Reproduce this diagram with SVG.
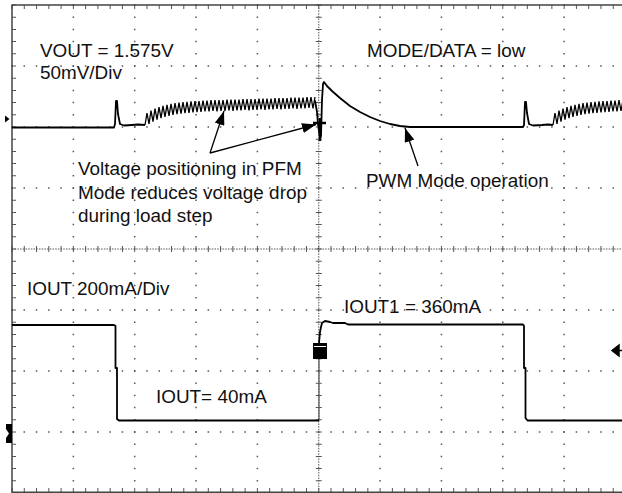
<svg xmlns="http://www.w3.org/2000/svg" xmlns:xlink="http://www.w3.org/1999/xlink" width="622" height="493" viewBox="0 0 622 493">
<style>
.dot{stroke:#555;stroke-width:1.5;fill:none}
.axis{stroke:#555;stroke-width:1;fill:none;stroke-dasharray:1.5 1.2}
.tick{stroke:#555;fill:none}
.frame{stroke:#444;stroke-width:1.5;fill:none}
.trace{stroke:#000;stroke-width:1.8;fill:none;stroke-linejoin:round}
.rip{stroke:#000;stroke-width:1.3;fill:none;stroke-linejoin:miter}
.lbl{font-family:"Liberation Sans",Arial,Helvetica,sans-serif;font-size:18.9px;fill:#111}
.arr{stroke:#000;stroke-width:1.3;fill:none}
</style>
<defs>
<marker id="ah" viewBox="0 0 14 10" refX="14" refY="5" markerWidth="14" markerHeight="10" markerUnits="userSpaceOnUse" orient="auto">
<path d="M0,0 L14,5 L0,10 Z" fill="#000"/>
</marker>
<path id="rip" d="M145,125 L147,113 L149,124 L151,110.6 L153,121.6 L155,108.7 L157,119.7 L159,107.1 L161,118.1 L163,105.8 L165,116.8 L167,104.8 L169,115.8 L171,103.9 L173,114.9 L175,103.2 L177,114.2 L179,102.6 L181,113.6 L183,102.1 L185,113.1 L187,101.8 L189,112.8 L191,101.4 L193,112.4 L195,101.2 L197,112.2 L199,101 L201,112 l2,-11.5 l2,11 l2,-11 l2,11 l2,-11.5 l2,11 l2,-11 l2,11.5 l2,-11.5 l2,11 l2,-11 l2,11 l2,-11.5 l2,11 l2,-11 l2,11.5 l2,-11.5 l2,11 l2,-11 l2,11 l2,-11.5 l2,11 l2,-11 l2,11.5 l2,-11.5 l2,11 l2,-11 l2,11 l2,-11.5 l2,11 l2,-11 l2,11.5 l2,-11.5 l2,11 l2,-11 l2,11 l2,-11.5 l2,11 l2,-11 l2,11.5 l2,-11.5 l2,11 l2,-11 l2,11 l2,-11.5 l2,11 l2,-11 l2,11.5 l2,-11.5 l2,11 l2,-11 l2,11 l2,-11.5 l2,11 l2,-11 l2,11.5 l2,-11.5"/>
</defs>
<rect width="622" height="493" fill="#fff"/>
<g id="grid">
<g class="dot" style="stroke-dasharray:1.5 10.7">
<line x1="73.35" y1="4.25" x2="73.35" y2="493"/>
<line x1="134.7" y1="4.25" x2="134.7" y2="493"/>
<line x1="196.05" y1="4.25" x2="196.05" y2="493"/>
<line x1="257.4" y1="4.25" x2="257.4" y2="493"/>
<line x1="380.1" y1="4.25" x2="380.1" y2="493"/>
<line x1="441.45" y1="4.25" x2="441.45" y2="493"/>
<line x1="502.8" y1="4.25" x2="502.8" y2="493"/>
<line x1="564.15" y1="4.25" x2="564.15" y2="493"/>
</g>
<g class="dot" style="stroke-dasharray:1.5 10.77">
<line x1="11.25" y1="66" x2="622" y2="66"/>
<line x1="11.25" y1="127" x2="622" y2="127"/>
<line x1="11.25" y1="188" x2="622" y2="188"/>
<line x1="11.25" y1="310" x2="622" y2="310"/>
<line x1="11.25" y1="371" x2="622" y2="371"/>
<line x1="11.25" y1="432" x2="622" y2="432"/>
</g>
<line class="axis" x1="318.75" y1="5" x2="318.75" y2="493"/>
<line class="axis" x1="12" y1="249" x2="622" y2="249"/>
<line class="tick" x1="318.75" y1="4.5" x2="318.75" y2="493" style="stroke-width:6;stroke-dasharray:1 11.2"/>
<line class="tick" x1="11.5" y1="249" x2="622" y2="249" style="stroke-width:6;stroke-dasharray:1 11.27"/>
<line class="tick" x1="14" y1="4.5" x2="14" y2="493" style="stroke-width:4;stroke-dasharray:1 11.2"/>
<line class="tick" x1="11.5" y1="7" x2="622" y2="7" style="stroke-width:4;stroke-dasharray:1 11.27"/>
<line class="tick" x1="11.5" y1="490" x2="622" y2="490" style="stroke-width:4;stroke-dasharray:1 11.27"/>
<path class="frame" d="M12,493 V5 H622 M12,492.3 H622"/>
</g>
<g id="vout-trace">
<path class="trace" d="M12,127.5 H114 L115,124 L116,101 L117,101 L118,114 L120,124 L124,125.5 L132,125 L138,124.5 L145,125"/>
<use xlink:href="#rip" class="rip"/>
<path class="trace" d="M315,100.5 L317,112 L318,124 L319,131 L320,138 L321,136 L322,100 L323,84 L324,82 L327,86 L332,91 L340,98 L350,106 L360,112 L370,117 L380,121 L390,124 L400,126 L410,127 H523 L524,125 L525,102 L526,102 L527,113 L529,124 L533,125.5 L542,125 L548,124.5 L553,125"/>
<use xlink:href="#rip" class="rip" transform="translate(408,0)"/>
<path d="M313,123 H326 M320,118 V141" stroke="#000" stroke-width="2.5" fill="none"/>
</g>
<g id="iout-trace">
<line x1="319" y1="343" x2="319" y2="421" stroke="#555" stroke-width="1.2"/>
<path class="trace" d="M12,325 H114 L115.5,326 V368 H117 V419 L119,420.5 H319"/>
<path class="trace" d="M319,343 L320,332 L321,327 L322,323 L325,321 L330,322 L333,323 H345 L348,324.5 H523 L524,326 V368 H525.5 V418 L527.5,420.5 H622"/>
<rect x="313" y="343" width="14" height="16" fill="#000"/>
<line x1="314" y1="346.5" x2="326" y2="346.5" stroke="#fff" stroke-width="1"/>
</g>
<g id="markers">
<path d="M5,115.5 L9.5,119 L5,122.5 Z" fill="#000"/>
<path d="M6,424 H12 V443 H6 V438 L9,433.5 L6,429 Z" fill="#000"/>
<path d="M612,350.5 L619,345 V356 Z M618,350.5 H622" fill="#000" stroke="#000" stroke-width="1.5"/>
</g>
<g id="connectors">
<line class="arr" x1="210" y1="153" x2="224" y2="111" marker-end="url(#ah)"/>
<line class="arr" x1="210" y1="153" x2="316" y2="124.5" marker-end="url(#ah)"/>
<line class="arr" x1="418" y1="166" x2="405" y2="128" marker-end="url(#ah)"/>
</g>
<g id="labels" class="lbl">
<text x="40" y="57">VOUT = 1.575V</text>
<text x="40" y="79">50mV/Div</text>
<text x="367" y="57">MODE/DATA = low</text>
<text x="78" y="175">Voltage positioning in PFM</text>
<text x="78" y="198.5">Mode reduces voltage drop</text>
<text x="78" y="222">during load step</text>
<text x="366" y="187">PWM Mode operation</text>
<text x="27" y="295">IOUT 200mA/Div</text>
<text x="156" y="403">IOUT= 40mA</text>
<text x="344" y="313">IOUT1 = 360mA</text>
</g>
</svg>
